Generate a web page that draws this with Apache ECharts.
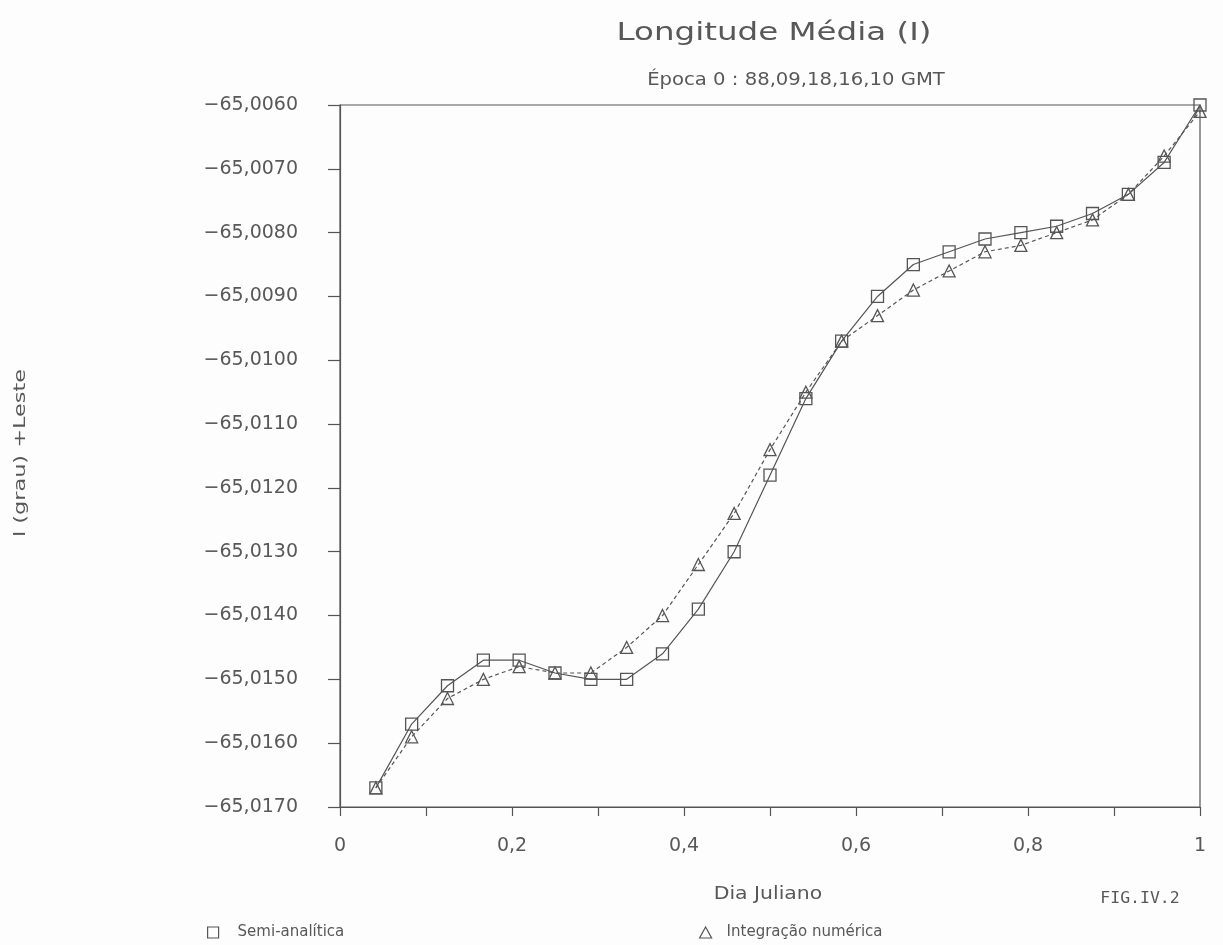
<!DOCTYPE html>
<html>
<head>
<meta charset="utf-8">
<title>Longitude Média</title>
<script src="https://cdn.jsdelivr.net/npm/echarts@6/dist/echarts.min.js"></script>
<style>
  html, body { margin: 0; padding: 0; background: #fdfdfd; }
  #chart { width: 1223px; height: 945px; }
</style>
</head>
<body>
<div id="chart"></div>
<script>
// Julian day fraction of each sample (hourly)
const diaJuliano = [0.0417, 0.0833, 0.125, 0.1667, 0.2083, 0.25, 0.2917, 0.3333,
  0.375, 0.4167, 0.4583, 0.5, 0.5417, 0.5833, 0.625, 0.6667, 0.7083, 0.75,
  0.7917, 0.8333, 0.875, 0.9167, 0.9583, 1.0];

// Mean longitude (degrees, + East)
const semiAnalitica = [-65.0167, -65.0157, -65.0151, -65.0147, -65.0147, -65.0149,
  -65.0150, -65.0150, -65.0146, -65.0139, -65.0130, -65.0118, -65.0106, -65.0097,
  -65.0090, -65.0085, -65.0083, -65.0081, -65.0080, -65.0079, -65.0077, -65.0074,
  -65.0069, -65.0060];

const integracaoNumerica = [-65.0167, -65.0159, -65.0153, -65.0150, -65.0148, -65.0149,
  -65.0149, -65.0145, -65.0140, -65.0132, -65.0124, -65.0114, -65.0105, -65.0097,
  -65.0093, -65.0089, -65.0086, -65.0083, -65.0082, -65.0080, -65.0078, -65.0074,
  -65.0068, -65.0061];

const seriesNames = ['Semi-analítica', 'Integração numérica'];

const ink = '#585858';
const lineInk = '#555555';
const font = 'DejaVu Sans';

const pairs = (ys) => diaJuliano.map((x, i) => [x, ys[i]]);

const chart = echarts.init(document.getElementById('chart'), null, { renderer: 'canvas' });

chart.setOption({
  backgroundColor: '#fdfdfd',
  animation: false,
  grid: {
    left: 340, top: 105, width: 860, height: 702,
    show: true, borderColor: lineInk, borderWidth: 1.2, backgroundColor: 'transparent'
  },
  xAxis: {
    type: 'value', min: 0, max: 1, interval: 0.1,
    axisLine: { lineStyle: { color: lineInk, width: 1.2 } },
    axisTick: { show: true, inside: false, length: 9, lineStyle: { color: lineInk, width: 1.2 } },
    splitLine: { show: false },
    axisLabel: {
      margin: 30, color: ink, fontFamily: font, fontSize: 19,
      formatter: (v) => {
        const t = Math.round(v * 10);
        if (t % 2 !== 0) return '';
        if (t === 0) return '0';
        if (t === 10) return '1';
        return (t / 10).toFixed(1).replace('.', ',');
      }
    }
  },
  yAxis: {
    type: 'value', min: -65.017, max: -65.006, interval: 0.001,
    axisLine: { lineStyle: { color: lineInk, width: 1.2 } },
    axisTick: { show: true, inside: false, length: 12, lineStyle: { color: lineInk, width: 1.2 } },
    splitLine: { show: false },
    axisLabel: {
      margin: 42, color: ink, fontFamily: font, fontSize: 19,
      formatter: (v) => '\u2212' + Math.abs(v).toFixed(4).replace('.', ',')
    }
  },
  legend: [
    {
      data: [{ name: seriesNames[0], icon: 'rect' }],
      left: 202, top: 920, itemWidth: 11, itemHeight: 11,
      itemStyle: { color: 'transparent', borderColor: lineInk, borderWidth: 1.2 },
      textStyle: { color: ink, fontFamily: font, fontSize: 15, padding: [0, 0, 0, 14] }
    },
    {
      data: [{ name: seriesNames[1], icon: 'triangle' }],
      left: 694, top: 920, itemWidth: 12, itemHeight: 11,
      itemStyle: { color: 'transparent', borderColor: lineInk, borderWidth: 1.2 },
      textStyle: { color: ink, fontFamily: font, fontSize: 15, padding: [0, 0, 0, 10] }
    }
  ],
  series: [
    {
      name: seriesNames[0], type: 'line', data: pairs(semiAnalitica),
      symbol: 'rect', symbolSize: 12,
      lineStyle: { color: lineInk, width: 1.2, type: 'solid' },
      itemStyle: { color: 'rgba(255,255,255,0)', borderColor: lineInk, borderWidth: 1.3 }
    },
    {
      name: seriesNames[1], type: 'line', data: pairs(integracaoNumerica),
      symbol: 'triangle', symbolSize: 12,
      lineStyle: { color: lineInk, width: 1.2, type: [4, 3] },
      itemStyle: { color: 'rgba(255,255,255,0)', borderColor: lineInk, borderWidth: 1.3 }
    }
  ],
  graphic: [
    {
      type: 'text', x: 774, y: 33, scaleX: 1.3,
      style: { text: 'Longitude Média (I)', fontFamily: font, fontSize: 25, fill: ink,
        align: 'center', verticalAlign: 'middle' }
    },
    {
      type: 'text', x: 796, y: 80, scaleX: 1.09,
      style: { text: 'Época 0 : 88,09,18,16,10 GMT', fontFamily: font, fontSize: 18, fill: ink,
        align: 'center', verticalAlign: 'middle' }
    },
    {
      type: 'text', x: 21, y: 453, rotation: Math.PI / 2, scaleX: 1.4,
      style: { text: 'l (grau) +Leste', fontFamily: font, fontSize: 16, fill: ink,
        align: 'center', verticalAlign: 'middle' }
    },
    {
      type: 'text', x: 768, y: 895, scaleX: 1.2,
      style: { text: 'Dia Juliano', fontFamily: font, fontSize: 17, fill: ink,
        align: 'center', verticalAlign: 'middle' }
    },
    {
      type: 'text', x: 1140, y: 899, scaleX: 1.1,
      style: { text: 'FIG.IV.2', fontFamily: 'DejaVu Sans Mono', fontSize: 15, fill: ink,
        align: 'center', verticalAlign: 'middle' }
    }
  ]
});
</script>
</body>
</html>
